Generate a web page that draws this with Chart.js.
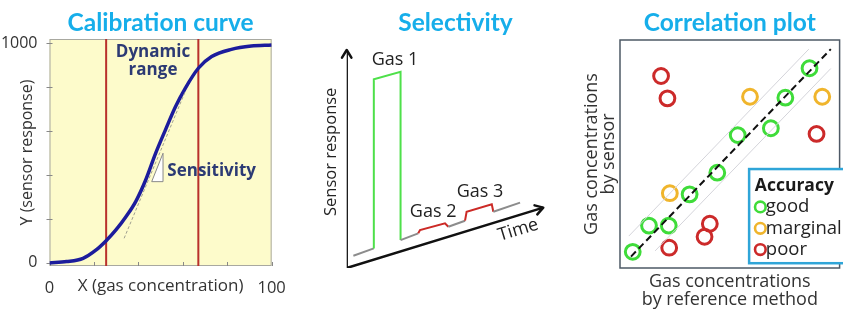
<!DOCTYPE html>
<html><head><meta charset="utf-8">
<script src="https://cdn.jsdelivr.net/npm/chart.js@4/dist/chart.umd.min.js"></script>
<style>
html,body{margin:0;padding:0;background:#fff;overflow:hidden;width:843px;height:310px;}
canvas{position:absolute;top:0;}
#c1{left:0;} #c2{left:290px;} #c3{left:570px;}
</style></head><body>
<canvas id="c1" width="290" height="310"></canvas>
<canvas id="c2" width="280" height="310"></canvas>
<canvas id="c3" width="280" height="310"></canvas>
<script>
// ---------- Panel 1: calibration curve ----------
const calX = [0, 7.7, 15.1, 21, 25.5, 29.9, 34.4, 38.8, 43.3, 47.8, 52.2, 56.7, 61.1, 67, 73, 81.9, 90.8, 100];
const calY = [0, 6, 21, 59, 101, 150, 210, 279, 377, 499, 605, 710, 794, 885, 938, 971, 986, 991];
const calXTicks = [0, 20, 40, 60, 80, 100];
const calYTicks = [0, 200, 400, 600, 800, 1000];
const dynamicRange = [25.5, 67];
const sensX = [33.6, 61.1];
const sensY = [112, 779];
const triX = [46, 51.1, 51.1, 46];
const triY = [369.5, 369.5, 498.6, 369.5];

// ---------- Panel 2: selectivity ----------
const selTime = [3.4, 13.8, 13.8, 27.4, 27.4, 36.4, 37.3, 50.0, 51.7, 60.2, 61.0, 73.8, 74.6, 88.2];
const selResponse = [5.6, 9.0, 86.6, 90.0, 12.8, 15.9, 17.4, 20.5, 18.9, 21.7, 25.8, 29.2, 25.8, 30.0];
const selPhase = ['base', 'gas1', 'gas1', 'gas1', 'base', 'gas2', 'gas2', 'gas2', 'base', 'gas3', 'gas3', 'gas3', 'base'];
const selAxisTime = [0, 0, 100];
const selAxisResp = [100, 0, 27.7];

// ---------- Panel 3: correlation plot ----------
const goodRef = [5.8, 13.2, 22.2, 31.7, 44.3, 53.6, 68.7, 75.3, 86.3];
const goodSensor = [7.1, 18.6, 18.6, 32.3, 41.8, 58.3, 61.3, 74.7, 87.6];
const marginalRef = [22.7, 59.2, 92.1];
const marginalSensor = [32.8, 75.1, 75.1];
const poorRef = [18.7, 21.6, 89.5, 40.9, 38.5, 22.4];
const poorSensor = [84.2, 74.4, 58.8, 19.4, 13.7, 8.9];
const idealRef = [5, 96];
const idealSensor = [5, 96];
const upperRef = [4, 86];
const upperSensor = [14, 96];
const lowerRef = [16, 96];
const lowerSensor = [7.5, 87.5];

const pts = (xs, ys) => xs.map((x, i) => ({x, y: ys[i]}));

Chart.defaults.font.family = "'Open Sans', sans-serif";
Chart.defaults.color = '#333';
const TITLE_COLOR = '#16aeea';
function titleOpts(text, chartTop) {
  return {display: true, text, color: TITLE_COLOR, fullSize: false,
    font: {family: 'Lato', weight: 'bold', size: 24.5, lineHeight: 1.2},
    padding: {top: 8.3, bottom: chartTop - 8.3 - 29.4}};
}
const baseOpts = {responsive: false, animation: false, devicePixelRatio: 1, events: []};

// text notes plugin (positions in data units)
function notesPlugin(id, notes) {
  return {id, afterDatasetsDraw(chart) {
    const {ctx, scales: {x, y}} = chart;
    notes.forEach(n => {
      ctx.save();
      ctx.font = n.font; ctx.fillStyle = n.color;
      ctx.textAlign = n.align || 'center'; ctx.textBaseline = 'middle';
      ctx.translate(x.getPixelForValue(n.x), y.getPixelForValue(n.y));
      if (n.rot) ctx.rotate(n.rot * Math.PI / 180);
      ctx.fillText(n.text, 0, 0);
      ctx.restore();
    });
  }};
}

// ---------- Chart 1 ----------
const calDecor = {id: 'calDecor', beforeDatasetsDraw(chart) {
  const {ctx, chartArea: a, scales: {x, y}} = chart;
  ctx.save();
  ctx.fillStyle = '#fdfbcb';
  ctx.fillRect(a.left, a.top, a.width, a.height);
  ctx.strokeStyle = '#a8a8a0'; ctx.lineWidth = 1;
  ctx.strokeRect(a.left + 0.5, a.top + 0.5, a.width - 1, a.height - 1);
  ctx.strokeStyle = '#888'; ctx.lineWidth = 1;
  ctx.beginPath();
  calXTicks.forEach(v => { const px = Math.round(x.getPixelForValue(v)) + 0.5; ctx.moveTo(px, a.bottom); ctx.lineTo(px, a.bottom - 4); });
  calYTicks.forEach(v => { const py = Math.round(y.getPixelForValue(v)) + 0.5; ctx.moveTo(a.left - 3, py); ctx.lineTo(a.left + 3, py); });
  ctx.stroke();
  ctx.strokeStyle = '#b9302c'; ctx.lineWidth = 2;
  ctx.beginPath();
  dynamicRange.forEach(v => { const px = x.getPixelForValue(v); ctx.moveTo(px, a.top); ctx.lineTo(px, a.bottom); });
  ctx.stroke();
  ctx.restore();
}};
const navyFont = "bold 17px 'Open Sans', sans-serif";
new Chart(document.getElementById('c1'), {
  type: 'scatter',
  data: {datasets: [
    {label: 'Sensitivity', data: pts(sensX, sensY), showLine: true, borderColor: '#a0a090', borderWidth: 1, borderDash: [3, 2], pointRadius: 0},
    {label: 'Slope', data: pts(triX, triY), showLine: true, borderColor: '#8a8a8a', borderWidth: 1, backgroundColor: '#ffffff', fill: 'shape', pointRadius: 0},
    {label: 'Calibration curve', data: pts(calX, calY), showLine: true, borderColor: '#1c1c9c', borderWidth: 3.5, pointRadius: 0, cubicInterpolationMode: 'monotone'}
  ]},
  options: {...baseOpts,
    layout: {padding: {left: 0, right: 16, top: 0, bottom: 0}},
    plugins: {legend: {display: false}, tooltip: {enabled: false}, title: titleOpts('Calibration curve', 39)},
    scales: {
      x: {type: 'linear', min: 0, max: 100,
        afterBuildTicks: s => { s.ticks = calXTicks.map(v => ({value: v})); },
        afterFit: s => { s.height = 44; },
        grid: {display: false}, border: {display: false},
        ticks: {padding: 4.2, color: '#333', font: {size: 16.5}, autoSkip: false, maxRotation: 0,
          callback: v => (v === 0 || v === 100) ? String(v) : ''},
        title: {display: true, text: 'X (gas concentration)', color: '#333', font: {size: 17, lineHeight: 1.2}, padding: {top: 0, bottom: 13.5}}},
      y: {type: 'linear', min: -14, max: 1018,
        afterBuildTicks: s => { s.ticks = calYTicks.map(v => ({value: v})); },
        afterFit: s => { s.width = 49.5; },
        grid: {display: false}, border: {display: false},
        ticks: {padding: 4, color: '#333', font: {size: 16}, autoSkip: false,
          callback: v => (v === 0 || v === 1000) ? String(v) : ''},
        title: {display: true, text: 'Y (sensor response)', color: '#333', font: {size: 16, lineHeight: 1.2}, padding: {top: 17.4, bottom: 0}}}
    }
  },
  plugins: [calDecor, notesPlugin('calNotes', [
    {text: 'Dynamic', x: 46.6, y: 959, font: navyFont, color: '#2c3a74'},
    {text: 'range', x: 46.6, y: 877, font: navyFont, color: '#2c3a74'},
    {text: 'Sensitivity', x: 73, y: 415, font: navyFont, color: '#2c3a74'}
  ])]
});

// ---------- Chart 2 ----------
const phaseColor = {base: '#8c8c8c', gas1: '#4ee04a', gas2: '#cc2a26', gas3: '#cc2a26'};
const arrowPlugin = {id: 'arrows', afterDatasetsDraw(chart) {
  const {ctx} = chart;
  const meta = chart.getDatasetMeta(0);
  const p = meta.data;
  const heads = [[p[1], p[0]], [p[p.length - 2], p[p.length - 1]]];
  ctx.save();
  ctx.strokeStyle = '#111'; ctx.lineWidth = 2.5; ctx.lineCap = 'round'; ctx.lineJoin = 'round';
  heads.forEach(([a, b]) => {
    const ang = Math.atan2(b.y - a.y, b.x - a.x), L = 9, w = 0.55;
    ctx.beginPath();
    ctx.moveTo(b.x - L * Math.cos(ang - w), b.y - L * Math.sin(ang - w));
    ctx.lineTo(b.x, b.y);
    ctx.lineTo(b.x - L * Math.cos(ang + w), b.y - L * Math.sin(ang + w));
    ctx.stroke();
  });
  ctx.restore();
}};
const plainFont = "18px 'Open Sans', sans-serif";
new Chart(document.getElementById('c2'), {
  type: 'scatter',
  data: {datasets: [
    {label: 'Axes', data: pts(selAxisTime, selAxisResp), showLine: true, borderColor: '#111', borderWidth: 2.5, pointRadius: 0, borderJoinStyle: 'miter'},
    {label: 'Sensor response', data: pts(selTime, selResponse), showLine: true, borderWidth: 2, pointRadius: 0,
      segment: {borderColor: c => phaseColor[selPhase[c.p0DataIndex]]}}
  ]},
  options: {...baseOpts,
    layout: {padding: {left: 56.7, right: 5.7, top: 0, bottom: 42}},
    plugins: {legend: {display: false}, tooltip: {enabled: false}, title: titleOpts('Selectivity', 50)},
    scales: {x: {type: 'linear', min: 0, max: 110.7, display: false}, y: {type: 'linear', min: 0, max: 100, display: false}}
  },
  plugins: [arrowPlugin, notesPlugin('selNotes', [
    {text: 'Gas 1', x: 24.6, y: 95.4, font: plainFont, color: '#222'},
    {text: 'Gas 2', x: 44.0, y: 25.8, font: plainFont, color: '#222'},
    {text: 'Gas 3', x: 67.8, y: 35.0, font: plainFont, color: '#222'},
    {text: 'Time', x: 87.3, y: 17.4, font: plainFont, color: '#222', rot: -17},
    {text: 'Sensor response', x: -7.6, y: 53.3, font: "16.5px 'Open Sans', sans-serif", color: '#222', rot: -90}
  ])]
});

// ---------- Chart 3 ----------
const corrDecor = {id: 'corrDecor', beforeDatasetsDraw(chart) {
  const {ctx, chartArea: a} = chart;
  ctx.save();
  ctx.strokeStyle = '#4d5966'; ctx.lineWidth = 1.5;
  ctx.strokeRect(a.left, a.top, a.width, a.height);
  ctx.restore();
}, afterDatasetsDraw(chart) {
  const {ctx, chartArea: a, scales: {x, y}} = chart;
  const L = {left: 58.8, top: 43.4, bottom: 2.1, titleX: 61.4, titleY: 36.1, markX: 63.9, textX: 66.4, rows: [26.8, 17.4, 8.1]};
  ctx.save();
  const bl = x.getPixelForValue(L.left), bt = y.getPixelForValue(L.top), bb = y.getPixelForValue(L.bottom);
  ctx.fillStyle = '#fff'; ctx.fillRect(bl, bt, a.right + 20 - bl, bb - bt);
  ctx.strokeStyle = '#2fa5d8'; ctx.lineWidth = 2.5;
  ctx.strokeRect(bl, bt, a.right + 20 - bl, bb - bt);
  ctx.fillStyle = '#1a1a1a'; ctx.textBaseline = 'middle'; ctx.textAlign = 'left';
  ctx.font = "bold 17.5px 'Open Sans', sans-serif";
  ctx.fillText('Accuracy', x.getPixelForValue(L.titleX), y.getPixelForValue(L.titleY));
  ctx.font = "18.5px 'Open Sans', sans-serif";
  chart.data.datasets.filter(d => d.legendRow !== undefined).forEach(d => {
    const py = y.getPixelForValue(L.rows[d.legendRow]);
    ctx.beginPath(); ctx.strokeStyle = d.borderColor; ctx.lineWidth = 2.6;
    ctx.arc(x.getPixelForValue(L.markX), py, 5.3, 0, Math.PI * 2); ctx.stroke();
    ctx.fillStyle = '#222';
    ctx.fillText(d.label, x.getPixelForValue(L.textX), py);
  });
  ctx.restore();
}};
const circ = (label, xs, ys, color, row) => ({label, data: pts(xs, ys), borderColor: color, backgroundColor: 'rgba(0,0,0,0)', pointRadius: 7.4, borderWidth: 3, pointStyle: 'circle', legendRow: row});
new Chart(document.getElementById('c3'), {
  type: 'scatter',
  data: {datasets: [
    {label: 'upper', data: pts(upperRef, upperSensor), showLine: true, borderColor: '#d4d4da', borderWidth: 1, pointRadius: 0},
    {label: 'lower', data: pts(lowerRef, lowerSensor), showLine: true, borderColor: '#d4d4da', borderWidth: 1, pointRadius: 0},
    {label: 'ideal', data: pts(idealRef, idealSensor), showLine: true, borderColor: '#111', borderWidth: 2, borderDash: [7, 4], pointRadius: 0},
    circ('good', goodRef, goodSensor, '#3fdc3a', 0),
    circ('marginal', marginalRef, marginalSensor, '#f0b52c', 1),
    circ('poor', poorRef, poorSensor, '#cc2a2a', 2)
  ]},
  options: {...baseOpts,
    layout: {padding: {left: 0, right: 2, top: 0, bottom: 0}},
    plugins: {legend: {display: false}, tooltip: {enabled: false}, title: titleOpts('Correlation plot', 40)},
    scales: {
      x: {type: 'linear', min: 0, max: 100, afterFit: s => { s.height = 42; },
        grid: {display: false}, border: {display: false}, ticks: {display: false},
        title: {display: true, text: ['Gas concentrations', 'by reference method'], color: '#333', font: {size: 18, lineHeight: 0.98}, padding: {top: 0, bottom: 1.2}}},
      y: {type: 'linear', min: 0, max: 100, afterFit: s => { s.width = 50; },
        grid: {display: false}, border: {display: false}, ticks: {display: false},
        title: {display: true, text: ['Gas concentrations', 'by sensor'], color: '#333', font: {size: 18, lineHeight: 0.98}, padding: {top: 12.9, bottom: 0}}}
    }
  },
  plugins: [corrDecor]
});
</script>
</body></html>
